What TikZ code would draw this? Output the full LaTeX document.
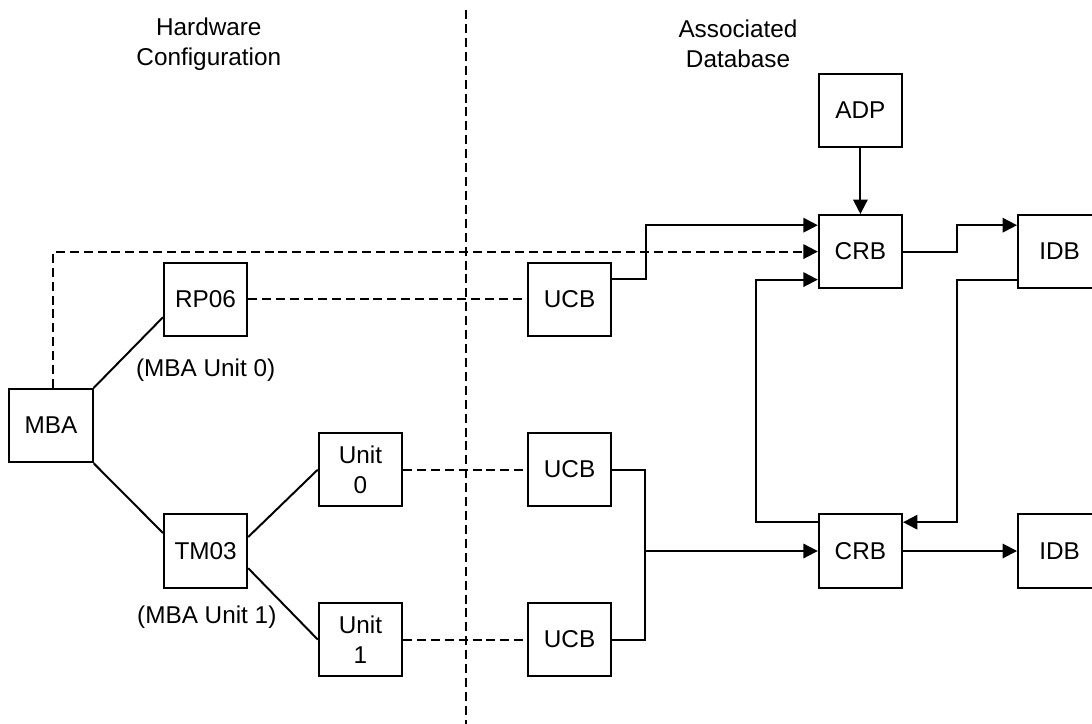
\documentclass[tikz,border=0pt]{standalone}
\usepackage{fontspec}
\setmainfont{Liberation Sans}
\usepackage{tikz}
\usetikzlibrary{arrows.meta,positioning,calc}

\begin{document}
\begin{tikzpicture}[
    font=\fontsize{17.3}{21.3}\selectfont,
    blk/.style={rectangle, draw, line width=1.4pt, minimum width=2.08cm, minimum height=1.83cm, inner sep=0pt, align=center},
    lnk/.style={line width=1.4pt},
    dlnk/.style={line width=1.4pt, dash pattern=on 6.4pt off 3.5pt},
    arr/.style={-{Triangle[length=0.36cm, width=0.36cm]}, line width=1.4pt}
]
    \useasboundingbox (0,0) rectangle (27.3,-18.1);

    % column headings and separator
    \node[align=center] (hw) at (5.22,-1.1) {Hardware\\Configuration};
    \node[align=center] (db) at (18.45,-1.1) {Associated\\Database};
    \draw[dlnk] (11.65,-0.25) -- (11.65,-18.1);

    % hardware side
    \node[blk] (mba) at (1.275,-10.64) {MBA};
    \node[blk] (rp06) at (5.14,-7.48) {RP06};
    \node[blk] (tm03) at (5.14,-13.775) {TM03};
    \node[blk] (unit0) at (9.01,-11.74) {Unit\\0};
    \node[blk] (unit1) at (9.01,-15.99) {Unit\\1};
    \node (lbl0) at (5.14,-9.25) {(MBA Unit 0)};
    \node (lbl1) at (5.17,-15.43) {(MBA Unit 1)};

    % database side
    \node[blk] (ucb1) at (14.24,-7.48) {UCB};
    \node[blk] (ucb2) at (14.24,-11.74) {UCB};
    \node[blk] (ucb3) at (14.24,-15.99) {UCB};
    \node[blk] (adp) at (21.51,-2.76) {ADP};
    \node[blk] (crb1) at (21.51,-6.29) {CRB};
    \node[blk] (crb2) at (21.51,-13.775) {CRB};
    \node[blk] (idb1) at (26.49,-6.29) {IDB};
    \node[blk] (idb2) at (26.49,-13.775) {IDB};
    \coordinate (jn) at (16.125,-13.775);

    \draw[lnk] (mba.north east) -- ([yshift=-0.45cm]rp06.west);
    \draw[lnk] (mba.south east) -- ([yshift=0.45cm]tm03.west);
    \draw[lnk] ([yshift=0.35cm]tm03.east) -- (unit0.west);
    \draw[lnk] ([yshift=-0.43cm]tm03.east) -- (unit1.west);

    \draw[dlnk] (rp06) -- (ucb1);
    \draw[dlnk] (unit0) -- (ucb2);
    \draw[dlnk] (unit1) -- (ucb3);
    \draw[arr, dash pattern=on 6.4pt off 3.5pt] ([xshift=0.05cm]mba.north) |- (crb1.west);

    \draw[arr] (adp) -- (crb1);
    \draw[arr] ([yshift=0.51cm]ucb1.east) -- ++(0.835,0) |- ([yshift=0.66cm]crb1.west);
    \draw[arr] ([yshift=0.72cm]crb2.west) -- ++(-1.55,0) |- ([yshift=-0.7cm]crb1.west);
    \draw[arr] (crb1.east) -- ++(1.35,0) |- ([yshift=0.66cm]idb1.west);
    \draw[arr] ([yshift=-0.7cm]idb1.west) -- ++(-1.5,0) |- ([yshift=0.72cm]crb2.east);
    \draw[lnk] (ucb2.east) -| (jn) |- (ucb3.east);
    \draw[arr] (jn) -- (crb2.west);
    \draw[arr] (crb2) -- (idb2);
\end{tikzpicture}
\end{document}
